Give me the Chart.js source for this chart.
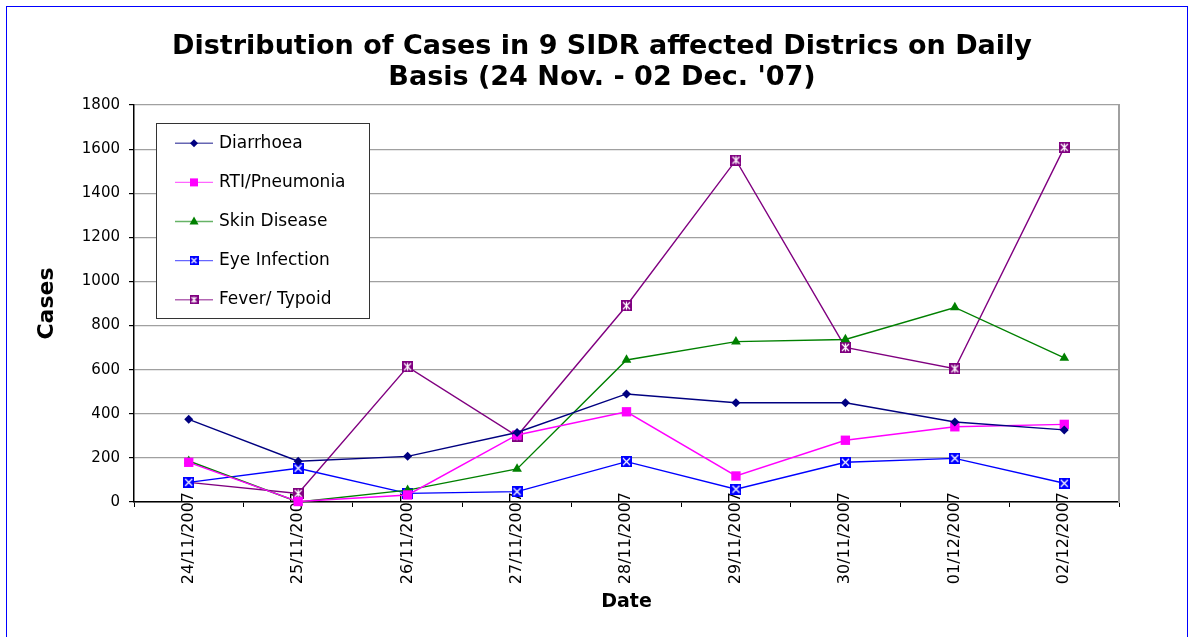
<!DOCTYPE html>
<html lang="en">
<head>
  <meta charset="UTF-8">
  <title>Distribution of Cases in 9 SIDR affected Districs</title>
  <script src="https://cdn.jsdelivr.net/npm/chart.js"></script>
  <style>
    body { margin: 0; background: #fff; }
    canvas { display: block; }
  </style>
</head>
<body>
  <canvas id="chart" width="1193" height="637"></canvas>

  <script>
    const dates = ['24/11/2007', '25/11/2007', '26/11/2007', '27/11/2007', '28/11/2007',
                   '29/11/2007', '30/11/2007', '01/12/2007', '02/12/2007'];
    const diarrhoea = [375, 185, 207, 315, 490, 450, 450, 363, 327];
    const rti       = [180, 2, 32, 304, 409, 118, 280, 341, 352];
    const skin      = [186, 0, 54, 150, 644, 727, 737, 882, 653];
    const eye       = [89, 153, 39, 47, 183, 58, 180, 198, 85];
    const fever     = [89, 39, 613, 299, 890, 1550, 701, 604, 1608];
    const seriesNames = ['Diarrhoea', 'RTI/Pneumonia', 'Skin Disease', 'Eye Infection', 'Fever/ Typoid'];
    const yTicks = [0, 200, 400, 600, 800, 1000, 1200, 1400, 1600, 1800];

    // square marker with a white cross (and a bar for the asterisk one)
    function boxMarker(color, size, star) {
      const c = document.createElement('canvas');
      c.width = c.height = size;
      const g = c.getContext('2d');
      g.fillStyle = color;
      g.fillRect(0, 0, size, size);
      g.strokeStyle = '#fff';
      g.lineWidth = 1.2;
      g.beginPath();
      g.moveTo(2, 2); g.lineTo(size - 2, size - 2);
      g.moveTo(size - 2, 2); g.lineTo(2, size - 2);
      if (star) { g.moveTo(size / 2, 1.5); g.lineTo(size / 2, size - 1.5); }
      g.stroke();
      return c;
    }

    const eyeMark = boxMarker('#0000ff', 11, false);
    const feverMark = boxMarker('#800080', 11, true);

    function ds(label, data, color, style, radius) {
      return {
        label: label, data: data,
        borderColor: color, backgroundColor: color,
        borderWidth: 1.4, pointStyle: style, pointRadius: radius,
        pointBorderWidth: 0, tension: 0, clip: false
      };
    }

    const legendBox = {
      id: 'legendBox',
      afterDraw(chart) {
        const ctx = chart.ctx;
        ctx.save();
        ctx.fillStyle = '#fff';
        ctx.fillRect(156, 123, 213, 195);
        ctx.strokeStyle = '#333';
        ctx.lineWidth = 1;
        ctx.strokeRect(156.5, 123.5, 213, 195);
        ctx.font = '17px "DejaVu Sans"';
        ctx.textBaseline = 'middle';
        chart.data.datasets.forEach((d, i) => {
          const y = 143.3 + i * 39.1;
          ctx.globalAlpha = 0.6;
          ctx.strokeStyle = d.borderColor;
          ctx.lineWidth = 1.4;
          ctx.beginPath(); ctx.moveTo(175, y); ctx.lineTo(213, y); ctx.stroke();
          ctx.globalAlpha = 1;
          ctx.fillStyle = d.borderColor;
          const x = 194;
          ctx.beginPath();
          if (d.pointStyle === 'rectRot') {
            ctx.moveTo(x - 4, y); ctx.lineTo(x, y - 4); ctx.lineTo(x + 4, y); ctx.lineTo(x, y + 4);
            ctx.fill();
          } else if (d.pointStyle === 'rect') {
            ctx.fillRect(x - 4, y - 4, 8, 8);
          } else if (d.pointStyle === 'triangle') {
            ctx.moveTo(x, y - 5); ctx.lineTo(x + 4.5, y + 3); ctx.lineTo(x - 4.5, y + 3);
            ctx.fill();
          } else {
            ctx.drawImage(boxMarker(d.borderColor, 9, i === 4), x - 4.5, y - 4.5);
          }
          ctx.fillStyle = '#000';
          ctx.fillText(d.label, 219, y);
        });
        ctx.restore();
      }
    };

    const frame = {
      id: 'frame',
      beforeDraw(chart) {
        const ctx = chart.ctx;
        ctx.save();
        ctx.fillStyle = '#fff';
        ctx.fillRect(0, 0, chart.width, chart.height);
        ctx.strokeStyle = '#0000ff';
        ctx.lineWidth = 1;
        ctx.strokeRect(6.5, 6.5, 1181, 700);
        ctx.restore();
      }
    };

    new Chart(document.getElementById('chart'), {
      type: 'line',
      data: {
        labels: dates,
        datasets: [
          ds(seriesNames[0], diarrhoea, '#000080', 'rectRot', 4.5),
          ds(seriesNames[1], rti, '#ff00ff', 'rect', 6.6),
          ds(seriesNames[2], skin, '#008000', 'triangle', 5.6),
          ds(seriesNames[3], eye, '#0000ff', eyeMark, 5),
          ds(seriesNames[4], fever, '#800080', feverMark, 5)
        ]
      },
      options: {
        responsive: false,
        animation: false,
        layout: { padding: { left: 11, right: 0, top: 0, bottom: 0 } },
        plugins: {
          legend: { display: false },
          tooltip: { enabled: false },
          title: {
            display: true,
            text: ['Distribution of Cases in 9 SIDR affected Districs on Daily', "Basis (24 Nov. - 02 Dec. '07)"],
            color: '#000',
            font: { family: 'DejaVu Sans', size: 27, weight: 'bold', lineHeight: 1.15 },
            padding: { top: 31.5, bottom: 11.4 }
          }
        },
        scales: {
          x: {
            offset: true,
            grid: { drawOnChartArea: false, drawTicks: true, tickLength: 5, tickColor: '#000', offset: true },
            border: { color: '#000', width: 1.5 },
            // mirror keeps the label unclipped so its end can sit just above the axis, as in the original
            ticks: {
              color: '#000', autoSkip: false, minRotation: 90, maxRotation: 90, mirror: true, padding: 10,
              labelOffset: 19, font: { family: 'DejaVu Sans', size: 16 }
            },
            title: {
              display: true, text: 'Date', color: '#000',
              font: { family: 'DejaVu Sans', size: 19, weight: 'bold', lineHeight: 1.2 },
              padding: { top: 0, bottom: 24 }
            },
            afterFit(scale) { scale.height = 135; }
          },
          y: {
            min: 0, max: 1800,
            afterBuildTicks(scale) { scale.ticks = yTicks.map(v => ({ value: v })); },
            grid: { color: '#a0a0a0', tickColor: '#000', tickLength: 5, lineWidth: 1.2 },
            border: { color: '#000', width: 1.5 },
            ticks: {
              color: '#000', padding: 9, font: { family: 'DejaVu Sans', size: 15 },
              callback: v => String(v)
            },
            title: {
              display: true, text: 'Cases', color: '#000',
              font: { family: 'DejaVu Sans', size: 22, weight: 'bold', lineHeight: 1.2 },
              padding: { top: 22.8, bottom: 0 }
            },
            afterFit(scale) { scale.width = 123; }
          },
          yRight: {
            position: 'right',
            min: 0, max: 1800,
            grid: { drawOnChartArea: false, drawTicks: false },
            border: { color: '#a0a0a0', width: 2 },
            ticks: { display: false },
            afterFit(scale) { scale.width = 74; }
          }
        }
      },
      plugins: [frame, legendBox]
    });
  </script>
</body>
</html>
